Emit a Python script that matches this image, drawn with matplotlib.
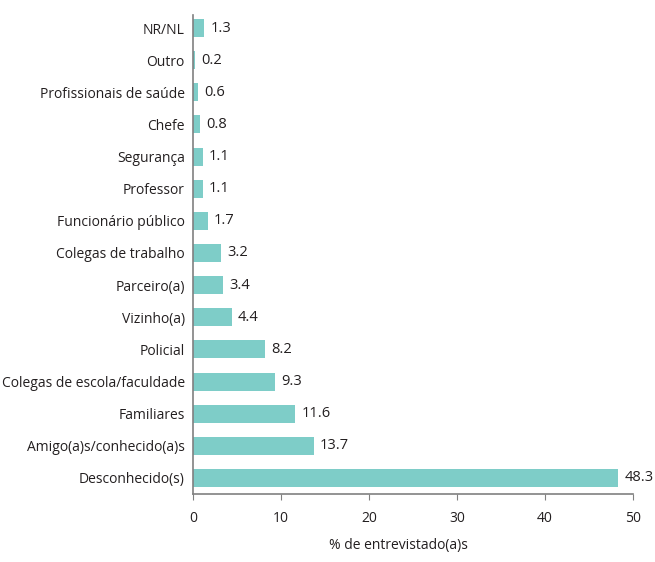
import matplotlib
matplotlib.use('Agg')
import matplotlib.pyplot as plt
import numpy as np

plt.rcParams['font.family'] = ['Open Sans', 'DejaVu Sans']

# categories from bottom to top
categories = ['Desconhecido(s)', 'Amigo(a)s/conhecido(a)s', 'Familiares',
              'Colegas de escola/faculdade', 'Policial', 'Vizinho(a)',
              'Parceiro(a)', 'Colegas de trabalho', 'Funcionário público',
              'Professor', 'Segurança', 'Chefe', 'Profissionais de saúde',
              'Outro', 'NR/NL']
values = [48.3, 13.7, 11.6, 9.3, 8.2, 4.4, 3.4, 3.2, 1.7, 1.1, 1.1, 0.8, 0.6, 0.2, 1.3]
xticks = [0, 10, 20, 30, 40, 50]

bar_color = '#7ecdc8'
axis_color = '#808080'

fig = plt.figure(figsize=(6.55, 5.62), dpi=100)
ax = fig.add_axes([0.2947, 0.121, 0.6717, 0.852])

y = np.arange(len(categories))
ax.barh(y, values, height=0.56, color=bar_color)

for yi, v in zip(y, values):
    ax.text(v + 0.7, yi, str(v), va='center', ha='left', fontsize=10.5, color='#231f20')

ax.set_yticks(y)
ax.set_yticklabels(categories, fontsize=10, color='#231f20')
ax.tick_params(axis='y', length=0, pad=6)
ax.set_xticks(xticks)
ax.set_xticklabels([str(t) for t in xticks], fontsize=10, color='#231f20')
ax.tick_params(axis='x', direction='out', length=4, color=axis_color, pad=8)

ax.set_xlim(0, 50)
ax.set_ylim(-0.5, 14.4)

for s in ['top', 'right']:
    ax.spines[s].set_visible(False)
for s in ['left', 'bottom']:
    ax.spines[s].set_color(axis_color)
    ax.spines[s].set_linewidth(1.2)

fig.text(0.608, 0.016, '% de entrevistado(a)s', ha='center', va='bottom', fontsize=10, color='#231f20')

plt.savefig('out.png', dpi=100)
